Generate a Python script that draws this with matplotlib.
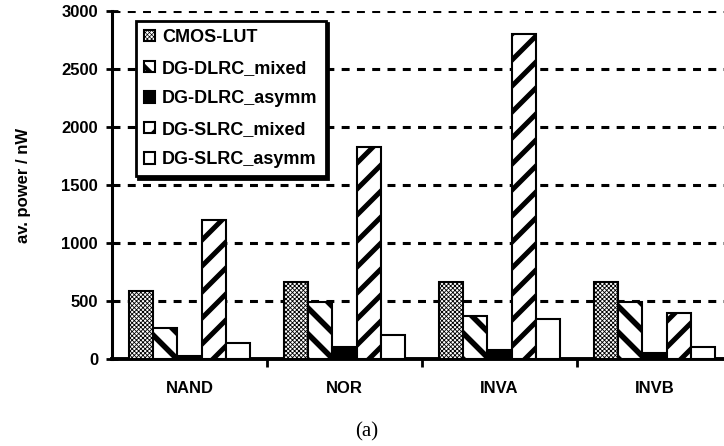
import numpy as np
import matplotlib
matplotlib.use("Agg")
import matplotlib.pyplot as plt

categories = ["NAND", "NOR", "INVA", "INVB"]
series_names = ["CMOS-LUT", "DG-DLRC_mixed", "DG-DLRC_asymm", "DG-SLRC_mixed", "DG-SLRC_asymm"]
cmos_lut = [590, 660, 660, 660]
dlrc_mixed = [265, 490, 370, 495]
dlrc_asymm = [30, 105, 80, 55]
slrc_mixed = [1200, 1830, 2800, 400]
slrc_asymm = [135, 205, 345, 105]
yticks = [0, 500, 1000, 1500, 2000, 2500, 3000]

DPI = 78
S = 100 / DPI  # keep pixel sizes as if at 100 dpi

series = [cmos_lut, dlrc_mixed, dlrc_asymm, slrc_mixed, slrc_asymm]
styles = [
    dict(facecolor="white", hatch="xxxxxx", hlw=0.6),
    dict(facecolor="white", hatch="\\", hlw=4.0),
    dict(facecolor="black", hatch=None, hlw=1.0),
    dict(facecolor="white", hatch="/", hlw=3.6),
    dict(facecolor="white", hatch=None, hlw=1.0),
]

plt.rcParams["font.family"] = ["Liberation Sans", "DejaVu Sans"]
fig = plt.figure(figsize=(724 / DPI, 446 / DPI), dpi=DPI)
ax = fig.add_axes([112 / 724, 1 - 359 / 446, 620 / 724, 348 / 446])

x = np.arange(len(categories))
w = 0.155
for i, (vals, st) in enumerate(zip(series, styles)):
    with plt.rc_context({"hatch.linewidth": st["hlw"] * S, "hatch.color": "black"}):
        ax.bar(x + (i - 2) * w, vals, width=w, facecolor=st["facecolor"],
               edgecolor="black", linewidth=1.5 * S, hatch=st["hatch"],
               label=series_names[i], zorder=3)

ax.set_xlim(-0.5, 3.5)
ax.set_ylim(0, 3000)
ax.set_yticks(yticks)
ax.set_yticklabels([str(v) for v in yticks], fontsize=12 * S, fontweight="bold")
ax.set_xticks(x)
ax.set_xticklabels(categories, fontsize=12 * S, fontweight="bold")
ax.set_xticks([0.5, 1.5, 2.5], minor=True)
ax.tick_params(axis="x", which="major", length=0, pad=16 * S)
ax.tick_params(axis="x", which="minor", length=6 * S, width=2 * S, direction="out")
ax.tick_params(axis="y", which="major", length=8 * S, width=2 * S, direction="inout", pad=6 * S)

for v in yticks[1:]:
    ax.axhline(v, color="black", linewidth=2.2 * S, linestyle=(0, (2.6, 2.4)), zorder=1)

for s in ["top", "right"]:
    ax.spines[s].set_visible(False)
ax.spines["left"].set_linewidth(2.2 * S)
ax.spines["bottom"].set_linewidth(2.8 * S)

ax.set_ylabel("av. power / nW", fontsize=12 * S, fontweight="bold", labelpad=22 * S)

leg = ax.legend(loc="upper left", bbox_to_anchor=(24 / 620, 1 - 10 / 348),
                prop=dict(size=13 * S, weight="bold"), handlelength=0.6, handleheight=0.6,
                handletextpad=0.4, labelspacing=0.75, borderpad=0.45, borderaxespad=0,
                fancybox=False, shadow=dict(color="black", alpha=1.0), framealpha=1)
leg.get_frame().set_edgecolor("black")
leg.get_frame().set_linewidth(2 * S)
leg.set_zorder(5)
for h, st in zip(leg.legend_handles, styles):
    if hasattr(h, "set_hatch_linewidth"):
        h.set_hatch_linewidth(st["hlw"] * S * 0.8)

fig.text(367 / 724, 1 - 432 / 446, "(a)", fontsize=15 * S, family="Liberation Serif",
         ha="center", va="center")

fig.savefig("out.png", dpi=DPI)
